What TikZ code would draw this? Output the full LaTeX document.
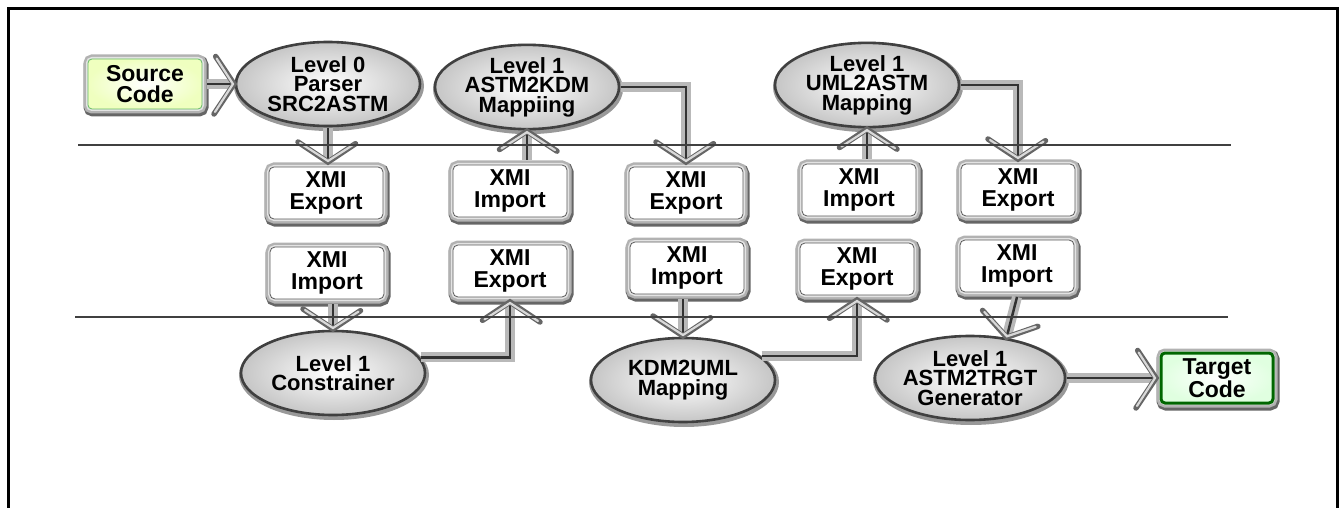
\documentclass[tikz,border=0pt]{standalone}
\usepackage{fontspec}
\setmainfont{Liberation Sans}
\usetikzlibrary{shapes.geometric,decorations.markings,calc}

% open chevron head, drawn in the path's own frame at its end
\newcommand\chevronhead{%
  \draw[black!60, line width=5.5pt, line join=miter, line cap=round] (-20pt,-30pt) -- (0pt,0pt) -- (-20pt,30pt);
  \draw[gray!30, line width=2.2pt, line join=miter, line cap=round] (-19pt,-28pt) -- (-1pt,0pt) -- (-19pt,28pt);}

\tikzset{
  lbl/.style={align=center, text=black},
  boxtext/.style={lbl, font=\bfseries\fontsize{23}{21.5}\selectfont},
  stagetext/.style={lbl, font=\bfseries\fontsize{22}{19.5}\selectfont},
  bevel/.style={
    preaction={draw=black!60, line width=11pt, transform canvas={xshift=1pt,yshift=-2pt}},
    preaction={draw=gray!60, line width=9pt},
    preaction={draw=gray!22, line width=4pt}},
  xmibox/.style={boxtext, rectangle, rounded corners=5pt, minimum width=114pt, minimum height=52pt,
    inner sep=0pt, outer sep=5pt, fill=white, draw=black!65, line width=0.8pt, bevel},
  srcbox/.style={boxtext, rectangle, rounded corners=4pt, minimum width=114pt, minimum height=50pt,
    inner sep=0pt, outer sep=5pt, inner color=white, outer color=green!25!yellow!25,
    draw=green!55!black!60, line width=0.8pt, bevel},
  tgtbox/.style={boxtext, rectangle, rounded corners=4pt, minimum width=112pt, minimum height=50pt,
    inner sep=0pt, outer sep=5pt, inner color=white, outer color=green!12,
    draw=green!40!black, line width=3pt, bevel},
  stage/.style={stagetext, ellipse, minimum width=184pt, minimum height=84pt, inner sep=0pt, outer sep=2pt,
    inner color=white, outer color=gray!45, draw=black!75, line width=2.6pt,
    preaction={draw=black!40, line width=6pt, transform canvas={xshift=1pt,yshift=-2pt}}},
  flow/.style={draw=gray!55, line width=10pt, shorten >=3pt,
    postaction={draw=black!80, line width=2.5pt, shorten >=3pt},
    postaction={decorate, decoration={markings, mark=at position 1 with {\chevronhead}}}},
  rule/.style={draw=black!75, line width=1.2pt},
  frame/.style={draw=black, line width=3pt}
}

\begin{document}
\begin{tikzpicture}[x=1pt,y=-1pt]
\useasboundingbox (0,0) rectangle (1342,508);
\draw[frame] (8,508) -- (8,9) -- (1337,9) -- (1337,508);

% processing stages
\node[srcbox] (src) at (145,84) {Source\\Code};
\node[stage] (lv0) at (328,84) {Level 0\\Parser\\SRC2ASTM};
\node[stage] (a2k) at (527,87) {Level 1\\ASTM2KDM\\Mappiing};
\node[stage] (u2a) at (867,85) {Level 1\\UML2ASTM\\Mapping};
\node[stage] (constr) at (333,373) {Level 1\\Constrainer};
\node[stage] (kdm) at (683,380) {KDM2UML\\Mapping};
\node[stage] (gen) at (970,378) {Level 1\\ASTM2TRGT\\Generator};
\node[tgtbox] (tgt) at (1217,378) {Target\\Code};

% XMI exchange, upper row
\node[xmibox] (exp1) at (326,193) {XMI\\Export};
\node[xmibox] (imp2) at (510,191) {XMI\\Import};
\node[xmibox] (exp3) at (686,193) {XMI\\Export};
\node[xmibox] (imp4) at (859,190) {XMI\\Import};
\node[xmibox] (exp5) at (1018,190) {XMI\\Export};

% XMI exchange, lower row
\node[xmibox] (imp1b) at (327,273) {XMI\\Import};
\node[xmibox] (exp2b) at (510,271) {XMI\\Export};
\node[xmibox] (imp3b) at (687,268) {XMI\\Import};
\node[xmibox] (exp4b) at (857,269) {XMI\\Export};
\node[xmibox] (imp5b) at (1017,266) {XMI\\Import};

% data flow
\draw[flow] (src.east) -- (lv0.west);
\draw[flow] (lv0.south) -- (lv0.south |- exp1.north);
\draw[flow] (imp2.north -| a2k.south) -- (a2k.south);
\draw[flow] (a2k.east) -| (exp3.north);
\draw[flow] (imp4.north -| u2a.south) -- (u2a.south);
\draw[flow] (u2a.east) -| (exp5.north);
\draw[flow] (imp1b.south -| constr.north) -- (constr.north);
\draw[flow] (constr.10) -| (exp2b.south);
\draw[flow] (imp3b.south -| kdm.north) -- (kdm.north);
\draw[flow] (kdm.17) -| (exp4b.south);
\draw[flow] (imp5b.south) -- (gen.48);
\draw[flow] (gen.east) -- (tgt.west);

% level separators
\draw[rule] (78,145) -- (1231,145);
\draw[rule] (75,317) -- (1228,317);
\end{tikzpicture}
\end{document}
